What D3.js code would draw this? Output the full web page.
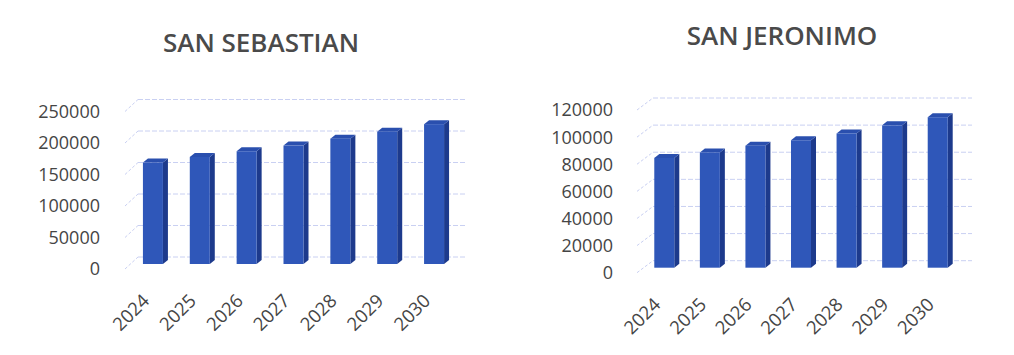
<!DOCTYPE html>
<html>
<head>
<meta charset="utf-8">
<script src="https://cdn.jsdelivr.net/npm/d3@7"></script>
<style>
  html, body { margin: 0; padding: 0; background: #fff; }
  svg { display: block; }
</style>
</head>
<body>
<svg id="chart" width="1014" height="355"></svg>
<script>
// Population projection per district
const years = ["2024", "2025", "2026", "2027", "2028", "2029", "2030"];
const sanSebastian = [161000, 170000, 179000, 188000, 199000, 210000, 222000];
const sanJeronimo = [81000, 85000, 90000, 94000, 99000, 105000, 111000];
const ticksSebastian = [0, 50000, 100000, 150000, 200000, 250000];
const ticksJeronimo = [0, 20000, 40000, 60000, 80000, 100000, 120000];

const svg = d3.select("#chart");

const FRONT = "#2f57b9", SIDE = "#1d3a8c", TOP = "#2a4fae";
const TEXT = "#454545", GRID = "#c9d0f2";

function drawPanel(opt) {
  const g = svg.append("g");
  const x = d3.scaleBand().domain(years).range([opt.left, opt.right]).paddingInner(0).paddingOuter(0);
  const y = d3.scaleLinear().domain([0, opt.max]).range([opt.bottom, opt.top]);

  // back wall gridlines + side wall diagonals
  const grid = g.append("g");
  opt.ticks.forEach(t => {
    grid.append("line")
      .attr("x1", opt.left + opt.dx).attr("x2", opt.right + opt.dx)
      .attr("y1", y(t) + opt.dy).attr("y2", y(t) + opt.dy)
      .attr("stroke", GRID).attr("stroke-width", 1).attr("stroke-dasharray", "5,2");
    grid.append("line")
      .attr("x1", opt.left).attr("x2", opt.left + opt.dx)
      .attr("y1", y(t)).attr("y2", y(t) + opt.dy)
      .attr("stroke", GRID).attr("stroke-width", 1).attr("stroke-dasharray", "3,2");
  });

  // y tick labels
  g.append("g").selectAll("text").data(opt.ticks).join("text")
    .attr("x", opt.labelX).attr("y", d => y(d))
    .attr("dy", "0.36em")
    .attr("text-anchor", "end")
    .attr("font-family", "'Open Sans', sans-serif")
    .attr("font-size", 18)
    .attr("fill", TEXT)
    .text(d => d);

  // 3D columns sitting at mid depth
  const bw = 20, bdx = 5, bdy = -4, mx = 4.5, my = -5;
  const data = years.map((yr, i) => ({ yr, v: opt.values[i] }));
  const bars = g.append("g").selectAll("g").data(data).join("g");
  bars.each(function (d) {
    const b = d3.select(this);
    const cx = x(d.yr) + x.bandwidth() / 2 + mx;
    const x0 = cx - bw / 2, x1 = cx + bw / 2;
    const yb = y(0) + my, yt = y(d.v) + my;
    b.append("polygon")
      .attr("points", [[x1, yt], [x1 + bdx, yt + bdy], [x1 + bdx, yb + bdy], [x1, yb]].join(" "))
      .attr("fill", SIDE);
    b.append("polygon")
      .attr("points", [[x0, yt], [x0 + bdx, yt + bdy], [x1 + bdx, yt + bdy], [x1, yt]].join(" "))
      .attr("fill", TOP);
    b.append("rect")
      .attr("x", x0).attr("y", yt).attr("width", bw).attr("height", yb - yt)
      .attr("fill", FRONT);
  });

  // rotated year labels
  g.append("g").selectAll("text").data(years).join("text")
    .attr("transform", d => `translate(${x(d) + x.bandwidth() / 2 + 2},${opt.bottom + 33}) rotate(-45)`)
    .attr("text-anchor", "end")
    .attr("font-family", "'Open Sans', sans-serif")
    .attr("font-size", 18.5)
    .attr("fill", TEXT)
    .text(d => d);

  // title
  g.append("text")
    .attr("x", opt.titleX).attr("y", opt.titleY)
    .attr("text-anchor", "middle")
    .attr("font-family", "'Open Sans', sans-serif")
    .attr("font-weight", 600)
    .attr("font-size", 26)
    .attr("fill", "#4a4a4a")
    .text(opt.title);
}

drawPanel({
  title: "SAN SEBASTIAN", titleX: 261, titleY: 52,
  values: sanSebastian, ticks: ticksSebastian, max: 250000,
  left: 125, right: 453, bottom: 269, top: 111.5, dx: 13, dy: -12,
  labelX: 100
});

drawPanel({
  title: "SAN JERONIMO", titleX: 782, titleY: 45,
  values: sanJeronimo, ticks: ticksJeronimo, max: 120000,
  left: 637, right: 956, bottom: 272.7, top: 110, dx: 16, dy: -12,
  labelX: 613
});
</script>
</body>
</html>
